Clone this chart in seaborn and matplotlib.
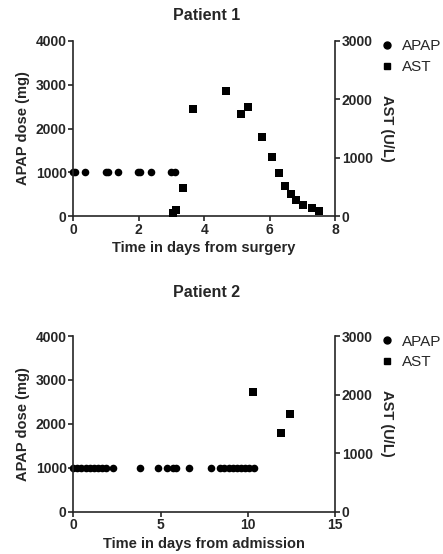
import matplotlib
matplotlib.use("Agg")
import matplotlib.pyplot as plt
from matplotlib.lines import Line2D
import seaborn as sns
import pandas as pd

# Patient 1
p1_apap_day = [0, 0.05, 0.37, 1.0, 1.05, 1.37, 1.99, 2.04, 2.37, 3.0, 3.12]
p1_apap_dose = [1000] * 11
p1_ast_day = [3.04, 3.13, 3.36, 3.67, 4.67, 5.12, 5.33, 5.78, 6.07, 6.29, 6.46,
              6.67, 6.80, 7.01, 7.30, 7.52]
p1_ast_val = [57, 98, 475, 1840, 2149, 1744, 1864, 1355, 1012, 738, 520,
              383, 280, 184, 137, 91]

# Patient 2
p2_apap_day = [0, 0.23, 0.47, 0.7, 0.93, 1.17, 1.4, 1.63, 1.87, 2.29, 3.82,
               4.84, 5.39, 5.69, 5.89, 6.65, 7.9, 8.40, 8.65, 8.90, 9.13,
               9.36, 9.59, 9.84, 10.09, 10.36]
p2_apap_dose = [1000] * 26
p2_ast_day = [10.32, 11.88, 12.42]
p2_ast_val = [2040, 1344, 1675]

panels = [
    dict(title="Patient 1", xlabel="Time in days from surgery",
         ad=p1_apap_day, av=p1_apap_dose, sd=p1_ast_day, sv=p1_ast_val,
         xlim=(0, 8), xticks=[0, 2, 4, 6, 8]),
    dict(title="Patient 2", xlabel="Time in days from admission",
         ad=p2_apap_day, av=p2_apap_dose, sd=p2_ast_day, sv=p2_ast_val,
         xlim=(0, 15), xticks=[0, 5, 10, 15]),
]

sns.set_style("ticks")
plt.rcParams['font.family'] = ['Liberation Sans', 'DejaVu Sans']
plt.rcParams['font.weight'] = 'bold'
plt.rcParams['axes.labelweight'] = 'bold'

W, H = 443, 554
fig = plt.figure(figsize=(W / 100, H / 100), dpi=100)

# axes rectangles in pixels: left, top, right, bottom
rects = [(73.3, 41, 335, 216), (73.3, 336, 335, 511.7)]
title_y = [15, 292]

for p, (l, t, r, b), ty in zip(panels, rects, title_y):
    ax = fig.add_axes([l / W, 1 - b / H, (r - l) / W, (b - t) / H])
    ax2 = ax.twinx()
    df1 = pd.DataFrame({"day": p["ad"], "dose": p["av"]})
    df2 = pd.DataFrame({"day": p["sd"], "ast": p["sv"]})
    sns.scatterplot(data=df1, x="day", y="dose", ax=ax, marker="o", s=30,
                    color="black", edgecolor="black", linewidth=0, clip_on=False)
    sns.scatterplot(data=df2, x="day", y="ast", ax=ax2, marker="s", s=28,
                    color="black", edgecolor="black", linewidth=0, clip_on=False)
    ax.set_xlim(*p["xlim"])
    ax.set_xticks(p["xticks"])
    ax.set_ylim(0, 4000)
    ax.set_yticks([0, 1000, 2000, 3000, 4000])
    ax2.set_ylim(0, 3000)
    ax2.set_yticks([0, 1000, 2000, 3000])
    for a in (ax, ax2):
        a.spines['top'].set_visible(False)
        for s in a.spines.values():
            s.set_linewidth(1.2)
        a.tick_params(width=1.2, length=3.6, labelsize=10, pad=1.2)
    ax2.spines['left'].set_visible(False)
    ax2.spines['bottom'].set_visible(False)
    ax.spines['right'].set_visible(False)
    ax.set_xlabel(p["xlabel"], fontsize=10.5, fontweight='bold', labelpad=3)
    ax.set_ylabel("APAP dose (mg)", fontsize=10.5, fontweight='bold', labelpad=4)
    ax2.set_ylabel("AST (U/L)", fontsize=10.5, fontweight='bold', rotation=270,
                   labelpad=15.5)
    for lab in ax.get_xticklabels() + ax.get_yticklabels() + ax2.get_yticklabels():
        lab.set_fontweight('bold')
    fig.text(207 / W, 1 - ty / H, p["title"], ha='center', va='center',
             fontsize=11.5, fontweight='bold')
    handles = [Line2D([], [], marker='o', color='black', linestyle='none', markersize=5),
               Line2D([], [], marker='s', color='black', linestyle='none', markersize=4.3)]
    leg = fig.legend(handles, ["APAP", "AST"], loc='upper left',
                     bbox_to_anchor=(381 / W, 1 - (t - 1.5) / H), frameon=False,
                     fontsize=11, handletextpad=0.6, labelspacing=0.42,
                     handlelength=0.8, borderaxespad=0, borderpad=0)
    for txt in leg.get_texts():
        txt.set_fontweight('normal')

fig.savefig("out.png", dpi=100)
